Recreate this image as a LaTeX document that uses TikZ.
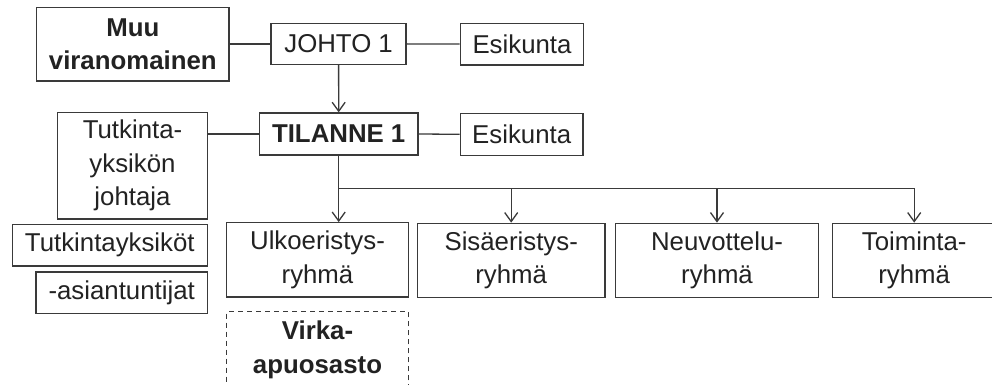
\documentclass[tikz,border=0pt]{standalone}
\usepackage{fontspec}
\setmainfont{Liberation Sans}
\usetikzlibrary{arrows.meta}
\definecolor{inkline}{RGB}{58,58,58}
\definecolor{inktext}{RGB}{34,34,34}
\begin{document}
\begin{tikzpicture}[x=1pt,y=-1pt,
  every node/.style={font=\fontsize{25.8}{33.5}\selectfont, text=inktext, align=center, inner sep=0pt},
  box/.style={draw=inkline, line width=1.3pt, rectangle},
  dbox/.style={box, dashed, dash pattern=on 5pt off 4pt},
  conn/.style={draw=inkline, line width=1.3pt},
  arr/.style={conn, -{Straight Barb[length=9pt,width=13pt,line width=1.3pt]}}
]
\useasboundingbox (0,0) rectangle (992,385);
\fill[white] (0,0) rectangle (992,385);

% top row: command level
\node[box, minimum width=192.3pt, minimum height=73.7pt] (muu) at (132.8,44.2) {\textbf{Muu}\\\textbf{viranomainen}};
\node[box, minimum width=135pt, minimum height=41.2pt] (johto) at (338.6,43.9) {JOHTO 1};
\node[box, minimum width=123.4pt, minimum height=41.7pt] (esik1) at (522,44.1) {Esikunta};

% situation level
\node[box, minimum width=158.7pt, minimum height=42pt] (tilanne) at (338.7,134) {\textbf{TILANNE 1}};
\node[box, minimum width=122.7pt, minimum height=42pt] (esik2) at (521.7,134.3) {Esikunta};
\node[box, minimum width=149.6pt, minimum height=106.3pt] (tutk) at (132.5,165.8) {Tutkinta-\\yksikön\\johtaja};
\node[box, minimum width=195pt, minimum height=41.3pt] (tyks) at (109.8,245.3) {Tutkintayksiköt};
\node[box, minimum width=171.3pt, minimum height=41.7pt] (asian) at (121.7,292.8) {-asiantuntijat};

% groups
\node[box, minimum width=181.6pt, minimum height=74.3pt] (ulko) at (317.5,259.9) {Ulkoeristys-\\ryhmä};
\node[box, minimum width=187.7pt, minimum height=74.2pt] (sisa) at (511.2,260.4) {Sisäeristys-\\ryhmä};
\node[box, minimum width=203.4pt, minimum height=74.4pt] (neuv) at (717,260.5) {Neuvottelu-\\ryhmä};
\node[box, minimum width=163.7pt, minimum height=74.4pt] (toim) at (914.2,260.5) {Toiminta-\\ryhmä};
\node[dbox, minimum width=181.6pt, minimum height=76pt] (virka) at (317.5,349.7) {\textbf{Virka-}\\\textbf{apuosasto}};

% connectors
\draw[conn] (muu.east |- johto.west) -- (johto.west);
\draw[conn] (johto.east) -- (esik1.west);
\draw[arr] (johto.south) -- (tilanne.north);
\draw[conn] (tutk.east |- tilanne.west) -- (tilanne.west);
\draw[conn] (tilanne.east) -- (esik2.west);

\coordinate (bus) at (338.7,188.3);
\draw[arr] (tilanne.south) -- (tilanne.south |- ulko.north);
\draw[arr] (bus) -| (toim.north);
\draw[arr] (bus -| sisa.north) -- (sisa.north);
\draw[arr] (bus -| neuv.north) -- (neuv.north);
\end{tikzpicture}
\end{document}
